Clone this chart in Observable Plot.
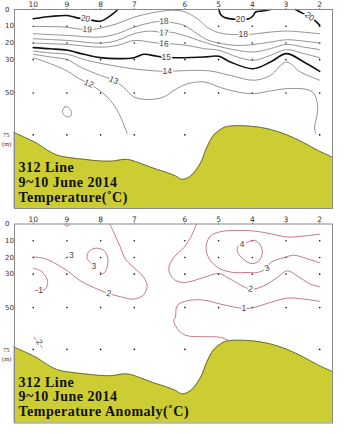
<!DOCTYPE html>
<html><head><meta charset="utf-8">
<script src="https://cdn.jsdelivr.net/npm/d3@7"></script>
<script src="https://cdn.jsdelivr.net/npm/@observablehq/plot@0.6"></script>
<style>body{margin:0;background:#fff;width:349px;height:434px;overflow:hidden}svg{display:block}
g[font-weight="bold"] text{letter-spacing:0.5px}</style>
</head><body><div id="c"></div>
<script>
// stations along the 312 line (x in station-spacing units) and sampling depths (m)
const stations = ["10","9","8","7","6","5","4","3","2"];
const stationPos = [0,1,2,3,4.5,5.5,6.5,7.5,8.5];
const sampleDepths = [10,20,30,50,75];
const depthTicks = [0,10,20,30,50];

// bottom topography [x, depth]
const seafloor = [[-0.575,73.5],[-0.18,77.1],[0.12,80.1],[0.42,84.1],[0.71,87.1],[1.01,88.4],[1.5,89.6],[2.0,90.6],[2.39,90.6],[2.69,89.6],[2.89,90],[3.18,92],[3.58,95],[3.98,97.6],[4.22,99.5],[4.42,101.6],[4.67,99.6],[4.96,92],[5.16,82.1],[5.36,75.1],[5.66,70.5],[5.9,69.6],[6.45,69.8],[7.04,71.7],[7.54,75.1],[8.03,79.7],[8.43,84.1],[8.89,88.4]];

// temperature isotherms [x, depth]
const T20a = [[0,5.5],[0.51,4.2],[1.01,3.6],[1.3,5.0],[1.65,6.1],[2.0,7.0],[2.2,5.0],[2.39,2.2],[2.51,0]];
const T20b = [[5.51,0],[5.56,3],[5.66,4.6],[5.86,5.6],[6.05,5.8],[6.4,5.6],[6.53,3.6],[6.6,1.5],[6.8,0.9],[7.04,0]];
const T20c = [[7.78,0],[8.03,2.6],[8.18,4.2],[8.38,7.0],[8.5,9.5]];
const T19 = [[0,10.2],[0.51,10.2],[1.01,10.6],[1.40,11.8],[1.80,11.8],[2.10,10.6],[2.49,8.5],[2.99,4.6],[3.48,2.2],[3.98,0.6],[4.2,0.5],[4.47,1.2],[4.87,5.5],[5.16,10.6],[5.51,13.9],[6.23,15.1],[7.04,13.5],[7.54,12.9],[8.5,14.5]];
const T18 = [[0,14.5],[1.01,15.5],[1.99,16.5],[2.49,14.5],[2.99,10.6],[3.48,7.9],[3.88,7.0],[4.07,7.6],[4.47,9.5],[4.87,14.5],[5.16,18.1],[5.51,20.1],[6.05,21.5],[6.55,20.9],[7.04,19.5],[7.51,18.1],[8.03,18.9],[8.5,20.1]];
const T17 = [[0,17.5],[1.01,18.5],[1.99,20.1],[2.49,18.5],[2.99,14.5],[3.48,12.9],[3.88,13.9],[4.07,13.5],[4.57,16.1],[5.06,19.5],[5.51,22.1],[6.05,24.4],[6.55,25.4],[7.04,23.4],[7.51,20.9],[8.03,22.5],[8.5,24]];
const T16 = [[0,20.1],[1.01,20.9],[1.99,22.5],[2.49,21.5],[2.99,18.5],[3.48,19.5],[3.88,20.5],[4.07,20.5],[4.57,21.5],[5.06,23.4],[5.51,24.4],[6.05,28.4],[6.55,30.4],[7.04,27.4],[7.51,24],[8.03,26.4],[8.5,28.8]];
const T15 = [[0,22.8],[0.51,23.5],[1.01,24.4],[1.50,26.8],[1.99,28.8],[2.49,29.4],[2.99,28.8],[3.28,26.8],[3.68,28],[4.07,28.8],[5.06,28.4],[5.51,28],[5.85,31.4],[6.52,35.4],[7.04,31.4],[7.51,26.4],[8.03,31.4],[8.5,37]];
const T14 = [[0,24.9],[0.51,26],[1.01,26.8],[1.60,30.4],[2.49,34],[3.18,36],[3.98,37],[4.66,36.4],[5.26,36.8],[5.85,39.4],[6.55,42.3],[7.04,39.4],[7.51,31.4],[7.93,37.4],[8.5,42.3]];
const T13 = [[0,26.8],[0.51,28.4],[1.01,30],[1.40,34.4],[1.99,39.4],[2.39,42.3],[2.69,46.7],[2.99,52.3],[3.38,53.8],[3.88,52.3],[4.2,48],[4.57,44.5],[5.06,43.3],[5.56,46.7],[6.05,49.3],[6.55,50.3],[7.04,48.7],[7.54,47.3],[8.13,47.9],[8.33,50.3],[8.43,56.2],[8.43,62.2],[8.35,70.2],[8.38,74.1]];
const T12 = [[0,28.8],[0.51,32.4],[1.01,36.8],[1.35,41.3],[1.65,44.3],[1.99,48.7],[2.29,54.3],[2.49,60.2],[2.59,64.2],[2.79,74.1]];
const T12loop = [[0.87,61],[0.93,58.3],[1.05,58.6],[1.13,61],[1.12,63.5],[1.02,64.3],[0.92,63.3]];
const tempLabels = [["20",1.55,5.4,8],["19",1.6,11.9,3],["18",3.88,7.0,-3],["17",3.88,13.9,3],["16",3.88,20.5,5],["15",3.95,28.8,0],["14",3.98,37,0],["13",2.39,42.3,25],["12",1.65,44.3,25],["20",6.15,5.7,0],["20",8.2,4.2,40],["18",6.23,15.1,0]];

// temperature anomaly contours [x, depth]
const A2a = [[0,19.7],[0.31,20.5],[0.61,23.1],[1.01,28],[1.4,34],[1.9,38.9],[2.24,41.6],[2.59,43.5],[2.99,44.9],[3.28,42.3],[3.38,37],[3.28,32],[2.99,26.1],[2.74,21.1],[2.59,14.1],[2.44,7.2],[2.27,0]];
const A1a = [[0,26.4],[0.22,28],[0.36,31],[0.43,35],[0.36,38.9],[0.22,39.4],[0.05,39.9]];
const A3a = [[1.76,24],[1.6,20.5],[1.65,16.5],[1.85,14.5],[2.09,15.7],[2.21,20.1],[2.19,26.1],[2.08,29.6],[1.97,28.8]];
const A3s = [[0.95,20.6],[1.02,19.8],[1.1,20.3]];
const A3t = [[0.92,0],[1.0,1.3],[1.1,0]];
const A2b = [[4.84,0],[4.72,6.1],[4.47,14.1],[4.17,20.1],[4.02,27],[4.17,33],[4.47,35],[5.06,32],[5.51,29.6],[5.85,33],[6.45,38.9],[6.84,37],[7.24,32],[7.54,28],[7.83,31],[8.23,36],[8.5,37.5]];
const A3b = [[8.5,6.1],[8.03,7.2],[7.54,7.8],[7.04,5.8],[6.55,4.2],[6.05,3.8],[5.56,4.6],[5.26,7.2],[5.14,12.1],[5.16,18.1],[5.31,23.1],[5.56,27],[5.95,29],[6.35,29],[6.65,29],[6.94,26.4],[7.04,23.1],[7.44,20.1],[7.73,18.7],[8.03,20.1],[8.33,22.1],[8.5,23.1]];
const A4 = [[6.33,11.2],[6.55,9.7],[6.72,12.1],[6.8,17.1],[6.69,22.1],[6.5,23.7],[6.3,22.1],[6.1,18.1],[6.05,15.1],[6.1,12.8]];
const A1b = [[5.85,70.2],[5.56,67.8],[5.06,67.4],[4.57,66.8],[4.32,63.8],[4.17,57.8],[4.22,55.9],[4.27,48.9],[4.57,45.9],[5.06,45.5],[5.56,47.9],[6.25,50.5],[6.55,49.9],[7.04,46.9],[7.54,44.3],[8.03,44.9],[8.5,46.3]];
const A2c = [[0.02,67.8],[0.27,73.8]];
const anomLabels = [["3",1.8,25.3,0],["3",1.13,18.5,0],["2",2.24,41.6,10],["1",0.22,39.4,0],["2",6.45,38.9,10],["3",6.94,26.4,-20],["4",6.2,12,0],["1",6.25,50.5,0],["2",0.18,70.6,60]];

const tempLines = [
  {pts:T20a, bold:true},{pts:T20b, bold:true},{pts:T20c, bold:true},
  {pts:T19},{pts:T18},{pts:T17},{pts:T16},{pts:T15, bold:true},{pts:T14},{pts:T13},{pts:T12},{pts:T12loop, closed:true}
];
const anomLines = [{pts:A2a},{pts:A1a},{pts:A3a},{pts:A3s},{pts:A3t},{pts:A2b},{pts:A3b},{pts:A4},{pts:A1b},{pts:A2c}];

const grid = stationPos.flatMap(x => sampleDepths.map(d => [x, d]));
const X = d => d[0], Y = d => d[1];

function panel({lines, labels, color, caption, mt, mb}) {
  return Plot.plot({
    width: 349, height: 214,
    marginLeft: 14, marginRight: 17, marginTop: mt, marginBottom: mb,
    x: {domain: [-0.555, 8.88], axis: null},
    y: {domain: [0, 119], reverse: true, axis: null},
    style: {background: "white", overflow: "visible"},
    marks: [
      Plot.dot(grid, {x: X, y: Y, r: 0.8, fill: "#111", stroke: null}),
      ...lines.map(c => Plot.line(c.pts, {x: X, y: Y,
        stroke: c.bold ? "#111" : color, strokeWidth: c.bold ? 1.6 : 0.8,
        curve: c.closed ? "catmull-rom-closed" : "catmull-rom"})),
      Plot.text(labels, {x: d => d[1], y: d => d[2], text: d => d[0], rotate: d => d[3],
        fontSize: 8.5, fontFamily: "Liberation Sans", fill: "#444", stroke: "white", strokeWidth: 3}),
      Plot.areaY(seafloor, {x: X, y1: Y, y2: 119, fill: "#cccc33", curve: "catmull-rom"}),
      Plot.line(seafloor, {x: X, y: Y, stroke: "#6e6e3a", strokeWidth: 1, curve: "catmull-rom"}),
      Plot.axisX({anchor: "top", ticks: stationPos, tickFormat: d => stations[stationPos.indexOf(d)],
        tickSize: 2, tickPadding: 0.5, fontSize: 7.5, fontFamily: "DejaVu Sans", fill: "#333", stroke: "#888"}),
      Plot.text(depthTicks, {y: d => d, text: d => String(d), frameAnchor: "left", dx: -9.5,
        textAnchor: "start", fontSize: 7, fontFamily: "DejaVu Sans", fill: "#333"}),
      Plot.text([75], {y: d => d, text: () => "75", frameAnchor: "left", dx: -11.5,
        textAnchor: "start", fontSize: 6.5, fontFamily: "Liberation Serif", fill: "#333"}),
      Plot.text([75], {y: d => d, text: () => "(m)", frameAnchor: "left", dx: -12.5, dy: 9,
        textAnchor: "start", fontSize: 6.5, fontFamily: "Liberation Serif", fill: "#333"}),
      ...caption.map((t, i) => Plot.text([t], {text: d => d, frameAnchor: "bottom-left", dx: 4,
        dy: -7 - (caption.length - 1 - i) * 14.6, lineAnchor: "bottom", textAnchor: "start",
        fontSize: 14, fontWeight: "bold", fontFamily: "Liberation Serif", fill: "#111"})),
      Plot.frame({stroke: "#8a8a8a"})
    ]
  });
}

const c = document.getElementById("c");
c.append(panel({lines: tempLines, labels: tempLabels, color: "#777",
  caption: ["312 Line", "9~10 June 2014", "Temperature(˚C)"], mt: 9, mb: 6}));
c.append(panel({lines: anomLines, labels: anomLabels, color: "#b5566a",
  caption: ["312 Line", "9~10 June 2014", "Temperature Anomaly(˚C)"], mt: 9.5, mb: 5.5}));
</script></body></html>
